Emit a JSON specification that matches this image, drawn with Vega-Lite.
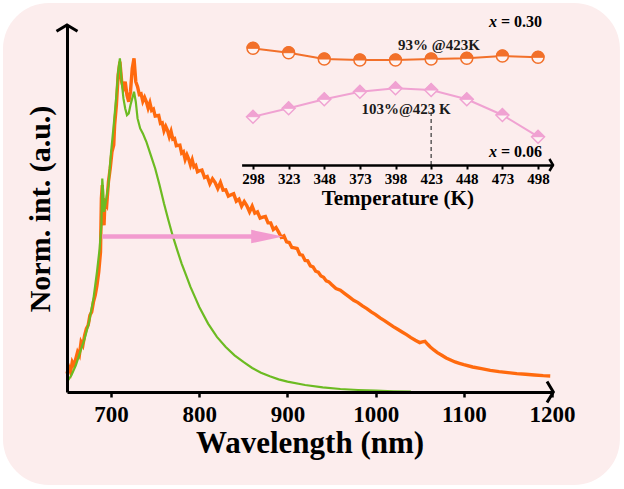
{
  "$schema": "https://vega.github.io/schema/vega-lite/v6.json",
  "width": 485,
  "height": 367,
  "autosize": {"type": "none"},
  "padding": {"left": 67, "top": 25, "right": 72, "bottom": 97},
  "background": "white",
  "config": {
    "view": {"stroke": null},
    "font": "Liberation Serif",
    "axis": {
      "grid": false,
      "labelFont": "Liberation Serif",
      "titleFont": "Liberation Serif",
      "labelFontWeight": "bold",
      "titleFontWeight": "bold",
      "labelColor": "black",
      "titleColor": "black",
      "domainColor": "black",
      "tickColor": "black"
    }
  },
  "datasets": {
    "orange": [
      {"w": 650, "v": 0.055}, {"w": 652, "v": 0.075}, {"w": 654, "v": 0.06}, {"w": 656, "v": 0.09},
      {"w": 658, "v": 0.08}, {"w": 660, "v": 0.1}, {"w": 662, "v": 0.12}, {"w": 664, "v": 0.11},
      {"w": 666, "v": 0.15}, {"w": 668, "v": 0.14}, {"w": 670, "v": 0.17}, {"w": 672, "v": 0.19},
      {"w": 674, "v": 0.2}, {"w": 676, "v": 0.23}, {"w": 678, "v": 0.24}, {"w": 680, "v": 0.27},
      {"w": 682, "v": 0.29}, {"w": 684, "v": 0.32}, {"w": 686, "v": 0.36}, {"w": 688, "v": 0.42},
      {"w": 689, "v": 0.58}, {"w": 690, "v": 0.62}, {"w": 691, "v": 0.52}, {"w": 692, "v": 0.5},
      {"w": 693, "v": 0.57}, {"w": 695, "v": 0.56}, {"w": 697, "v": 0.63}, {"w": 699, "v": 0.67},
      {"w": 701, "v": 0.72}, {"w": 703, "v": 0.74}, {"w": 704, "v": 0.8}, {"w": 706, "v": 0.86},
      {"w": 708, "v": 0.95}, {"w": 710, "v": 0.99}, {"w": 711, "v": 0.96}, {"w": 712, "v": 0.93},
      {"w": 714, "v": 0.91}, {"w": 716, "v": 0.93}, {"w": 718, "v": 0.89}, {"w": 720, "v": 0.87},
      {"w": 722, "v": 0.9}, {"w": 724, "v": 0.97}, {"w": 726, "v": 1.0}, {"w": 728, "v": 0.93},
      {"w": 730, "v": 0.915}, {"w": 732, "v": 0.892}, {"w": 734, "v": 0.894}, {"w": 736, "v": 0.871},
      {"w": 738, "v": 0.883}, {"w": 740, "v": 0.87}, {"w": 742, "v": 0.851}, {"w": 744, "v": 0.867},
      {"w": 746, "v": 0.844}, {"w": 748, "v": 0.848}, {"w": 750, "v": 0.827}, {"w": 752, "v": 0.828},
      {"w": 754, "v": 0.829}, {"w": 756, "v": 0.805}, {"w": 758, "v": 0.807}, {"w": 760, "v": 0.783},
      {"w": 762, "v": 0.796}, {"w": 764, "v": 0.784}, {"w": 766, "v": 0.765}, {"w": 768, "v": 0.781},
      {"w": 770, "v": 0.758}, {"w": 772, "v": 0.76}, {"w": 774, "v": 0.738}, {"w": 776, "v": 0.739},
      {"w": 778, "v": 0.74}, {"w": 780, "v": 0.716}, {"w": 782, "v": 0.72}, {"w": 784, "v": 0.697},
      {"w": 786, "v": 0.711}, {"w": 788, "v": 0.698}, {"w": 790, "v": 0.68}, {"w": 792, "v": 0.696},
      {"w": 794, "v": 0.675}, {"w": 796, "v": 0.679}, {"w": 798, "v": 0.66}, {"w": 800, "v": 0.663},
      {"w": 803, "v": 0.665}, {"w": 806, "v": 0.643}, {"w": 809, "v": 0.646}, {"w": 812, "v": 0.624},
      {"w": 815, "v": 0.639}, {"w": 818, "v": 0.628}, {"w": 821, "v": 0.61}, {"w": 824, "v": 0.628},
      {"w": 827, "v": 0.605}, {"w": 830, "v": 0.606}, {"w": 833, "v": 0.587}, {"w": 836, "v": 0.591},
      {"w": 839, "v": 0.594}, {"w": 842, "v": 0.572}, {"w": 845, "v": 0.578}, {"w": 848, "v": 0.557},
      {"w": 851, "v": 0.571}, {"w": 854, "v": 0.558}, {"w": 857, "v": 0.54}, {"w": 860, "v": 0.557},
      {"w": 863, "v": 0.536}, {"w": 866, "v": 0.54}, {"w": 869, "v": 0.521}, {"w": 872, "v": 0.524},
      {"w": 875, "v": 0.526}, {"w": 878, "v": 0.507}, {"w": 881, "v": 0.507}, {"w": 884, "v": 0.487},
      {"w": 887, "v": 0.493}, {"w": 890, "v": 0.479}, {"w": 893, "v": 0.464}, {"w": 896, "v": 0.468},
      {"w": 899, "v": 0.45}, {"w": 902, "v": 0.448}, {"w": 905, "v": 0.433}, {"w": 908, "v": 0.432},
      {"w": 911, "v": 0.43}, {"w": 914, "v": 0.412}, {"w": 917, "v": 0.41}, {"w": 920, "v": 0.394},
      {"w": 923, "v": 0.393}, {"w": 926, "v": 0.378}, {"w": 929, "v": 0.375}, {"w": 932, "v": 0.362},
      {"w": 935, "v": 0.359}, {"w": 938, "v": 0.348}, {"w": 941, "v": 0.344}, {"w": 944, "v": 0.333},
      {"w": 947, "v": 0.33}, {"w": 950, "v": 0.322}, {"w": 955, "v": 0.31}, {"w": 960, "v": 0.305},
      {"w": 965, "v": 0.295}, {"w": 970, "v": 0.285}, {"w": 975, "v": 0.275}, {"w": 980, "v": 0.268},
      {"w": 985, "v": 0.258}, {"w": 990, "v": 0.25}, {"w": 995, "v": 0.24}, {"w": 1000, "v": 0.232},
      {"w": 1005, "v": 0.222}, {"w": 1010, "v": 0.214}, {"w": 1015, "v": 0.205}, {"w": 1020, "v": 0.196},
      {"w": 1025, "v": 0.188}, {"w": 1030, "v": 0.18}, {"w": 1035, "v": 0.172}, {"w": 1040, "v": 0.163},
      {"w": 1045, "v": 0.155}, {"w": 1050, "v": 0.148}, {"w": 1053, "v": 0.15}, {"w": 1056, "v": 0.152},
      {"w": 1059, "v": 0.143}, {"w": 1062, "v": 0.135}, {"w": 1066, "v": 0.126}, {"w": 1070, "v": 0.118},
      {"w": 1075, "v": 0.11}, {"w": 1080, "v": 0.102}, {"w": 1085, "v": 0.096}, {"w": 1090, "v": 0.09},
      {"w": 1095, "v": 0.086}, {"w": 1100, "v": 0.082}, {"w": 1110, "v": 0.075}, {"w": 1120, "v": 0.07},
      {"w": 1130, "v": 0.065}, {"w": 1140, "v": 0.061}, {"w": 1150, "v": 0.058}, {"w": 1160, "v": 0.055},
      {"w": 1170, "v": 0.053}, {"w": 1180, "v": 0.051}, {"w": 1190, "v": 0.049}, {"w": 1198, "v": 0.048}
    ],
    "green": [
      {"w": 650, "v": 0.03}, {"w": 655, "v": 0.05}, {"w": 660, "v": 0.08}, {"w": 665, "v": 0.12},
      {"w": 670, "v": 0.16}, {"w": 675, "v": 0.21}, {"w": 680, "v": 0.28}, {"w": 684, "v": 0.36},
      {"w": 687, "v": 0.43}, {"w": 689, "v": 0.5}, {"w": 690, "v": 0.64}, {"w": 691, "v": 0.6},
      {"w": 692, "v": 0.54}, {"w": 694, "v": 0.57}, {"w": 697, "v": 0.62}, {"w": 700, "v": 0.72},
      {"w": 703, "v": 0.8}, {"w": 706, "v": 0.89}, {"w": 708, "v": 0.96}, {"w": 710, "v": 1.0},
      {"w": 712, "v": 0.93}, {"w": 714, "v": 0.88}, {"w": 716, "v": 0.85}, {"w": 718, "v": 0.83},
      {"w": 720, "v": 0.835}, {"w": 722, "v": 0.86}, {"w": 724, "v": 0.88}, {"w": 726, "v": 0.9},
      {"w": 728, "v": 0.87}, {"w": 730, "v": 0.82}, {"w": 733, "v": 0.79}, {"w": 736, "v": 0.775},
      {"w": 740, "v": 0.75}, {"w": 745, "v": 0.71}, {"w": 750, "v": 0.67}, {"w": 755, "v": 0.62},
      {"w": 760, "v": 0.565}, {"w": 765, "v": 0.515}, {"w": 770, "v": 0.467}, {"w": 775, "v": 0.425},
      {"w": 780, "v": 0.385}, {"w": 785, "v": 0.35}, {"w": 790, "v": 0.315}, {"w": 795, "v": 0.285},
      {"w": 800, "v": 0.255}, {"w": 810, "v": 0.205}, {"w": 820, "v": 0.165}, {"w": 830, "v": 0.135},
      {"w": 840, "v": 0.11}, {"w": 850, "v": 0.09}, {"w": 860, "v": 0.072}, {"w": 870, "v": 0.058},
      {"w": 880, "v": 0.047}, {"w": 890, "v": 0.038}, {"w": 900, "v": 0.031}, {"w": 920, "v": 0.021},
      {"w": 940, "v": 0.014}, {"w": 960, "v": 0.009}, {"w": 980, "v": 0.006}, {"w": 1000, "v": 0.004},
      {"w": 1020, "v": 0.002}, {"w": 1040, "v": 0.001}
    ],
    "inset": [
      {"t": 298, "o": 1.167, "p": 0.483},
      {"t": 323, "o": 1.123, "p": 0.567},
      {"t": 348, "o": 1.06, "p": 0.657},
      {"t": 373, "o": 1.05, "p": 0.733},
      {"t": 398, "o": 1.05, "p": 0.767},
      {"t": 423, "o": 1.06, "p": 0.75},
      {"t": 448, "o": 1.067, "p": 0.657},
      {"t": 473, "o": 1.09, "p": 0.5},
      {"t": 498, "o": 1.077, "p": 0.283}
    ]
  },
  "layer": [
    {
      "layer": [
        {
          "data": {"values": [{"x1": 577.4, "x2": 1277, "y1": -0.279, "y2": 1.166}]},
          "mark": {"type": "rect", "cornerRadius": 46, "fill": "#FCEDED", "clip": false},
          "encoding": {
            "x": {
              "field": "x1", "type": "quantitative",
              "scale": {"domain": [650, 1200], "nice": false, "zero": false},
              "axis": {
                "zindex": 2,
                "values": [700, 800, 900, 1000, 1100, 1200],
                "format": "d",
                "title": "Wavelength (nm)",
                "tickSize": 5, "tickWidth": 2.5,
                "domainWidth": 3,
                "labelFontSize": 23, "labelPadding": 6,
                "labelFlush": false, "labelOverlap": false,
                "titleFontSize": 31, "titlePadding": 2
              }
            },
            "x2": {"field": "x2"},
            "y": {
              "field": "y1", "type": "quantitative",
              "scale": {"domain": [0, 1.1], "nice": false},
              "axis": {
                "zindex": 2,
                "ticks": false, "labels": false,
                "domainWidth": 3,
                "title": "Norm. int. (a.u.)",
                "titleFontSize": 30, "titlePadding": 12
              }
            },
            "y2": {"field": "y2"}
          }
        },
        {
          "data": {"name": "orange"},
          "mark": {"type": "line", "color": "#FF6A0E", "strokeWidth": 3.4},
          "encoding": {
            "x": {"field": "w", "type": "quantitative", "scale": {"domain": [650, 1200], "nice": false, "zero": false}},
            "y": {"field": "v", "type": "quantitative", "scale": {"domain": [0, 1.1], "nice": false}}
          }
        },
        {
          "data": {"name": "green"},
          "mark": {"type": "line", "color": "#6CBB22", "strokeWidth": 2.2},
          "encoding": {
            "x": {"field": "w", "type": "quantitative", "scale": {"domain": [650, 1200], "nice": false, "zero": false}},
            "y": {"field": "v", "type": "quantitative", "scale": {"domain": [0, 1.1], "nice": false}}
          }
        },
        {
          "data": {"values": [{"a": 690, "b": 864, "v": 0.466}]},
          "mark": {"type": "rule", "color": "#F29BCF", "strokeWidth": 4.5},
          "encoding": {
            "x": {"field": "a", "type": "quantitative"},
            "x2": {"field": "b"},
            "y": {"field": "v", "type": "quantitative"}
          }
        },
        {
          "data": {"values": [{"a": 877, "v": 0.466}]},
          "mark": {"type": "point", "shape": "M-1,-0.42L1,0L-1,0.42Z", "filled": true, "color": "#F29BCF", "opacity": 1, "size": 1024},
          "encoding": {
            "x": {"field": "a", "type": "quantitative"},
            "y": {"field": "v", "type": "quantitative"}
          }
        },
        {
          "data": {"values": [{"w": 650, "v": 1.1, "s": "M-1,0.6L0,0L1,0.6"}, {"w": 1201.5, "v": 0, "s": "M-0.6,-1L0,0L-0.6,1"}]},
          "mark": {"type": "point", "filled": false, "color": "black", "strokeWidth": 3, "opacity": 1, "size": 441, "clip": false},
          "encoding": {
            "x": {"field": "w", "type": "quantitative"},
            "y": {"field": "v", "type": "quantitative"},
            "shape": {"field": "s", "type": "nominal", "scale": null, "legend": null}
          }
        }
      ]
    },
    {
      "layer": [
        {
          "data": {"values": [{"t": 423, "lo": 0, "hi": 0.53}]},
          "mark": {"type": "rule", "color": "#444444", "strokeWidth": 1.3, "strokeDash": [4, 3]},
          "encoding": {
            "x": {
              "field": "t", "type": "quantitative",
              "scale": {"domain": [290, 508.5], "range": [174.6, 486], "nice": false, "zero": false},
              "axis": {
                "zindex": 2,
                "orient": "bottom", "offset": -227,
                "values": [298, 323, 348, 373, 398, 423, 448, 473, 498],
                "format": "d",
                "title": "Temperature (K)",
                "tickSize": 4, "tickWidth": 2,
                "domainWidth": 2.5,
                "labelFontSize": 15, "labelPadding": 2,
                "labelFlush": false, "labelOverlap": false,
                "titleFontSize": 21, "titlePadding": 1
              }
            },
            "y": {"field": "lo", "type": "quantitative", "scale": {"domain": [0, 1.4], "range": [140, 0], "nice": false}, "axis": null},
            "y2": {"field": "hi"}
          }
        },
        {
          "data": {"name": "inset"},
          "mark": {"type": "line", "color": "#F2702A", "strokeWidth": 2},
          "encoding": {
            "x": {"field": "t", "type": "quantitative"},
            "y": {"field": "o", "type": "quantitative", "axis": null}
          }
        },
        {
          "data": {"name": "inset"},
          "mark": {"type": "line", "color": "#F0A2D2", "strokeWidth": 2},
          "encoding": {
            "x": {"field": "t", "type": "quantitative"},
            "y": {"field": "p", "type": "quantitative", "axis": null}
          }
        },
        {
          "data": {"name": "inset"},
          "mark": {"type": "point", "shape": "circle", "filled": true, "fill": "#FDF3F3", "stroke": "#F2702A", "strokeWidth": 1.5, "opacity": 1, "size": 144},
          "encoding": {
            "x": {"field": "t", "type": "quantitative"},
            "y": {"field": "o", "type": "quantitative", "axis": null}
          }
        },
        {
          "data": {"name": "inset"},
          "mark": {"type": "point", "shape": "M-1,0A1,1,0,0,1,1,0Z", "filled": true, "fill": "#F2702A", "stroke": "#F2702A", "strokeWidth": 1, "opacity": 1, "size": 144},
          "encoding": {
            "x": {"field": "t", "type": "quantitative"},
            "y": {"field": "o", "type": "quantitative", "axis": null}
          }
        },
        {
          "data": {"name": "inset"},
          "mark": {"type": "point", "shape": "diamond", "filled": true, "fill": "#FDF3F3", "stroke": "#F0A2D2", "strokeWidth": 1.5, "opacity": 1, "size": 169},
          "encoding": {
            "x": {"field": "t", "type": "quantitative"},
            "y": {"field": "p", "type": "quantitative", "axis": null}
          }
        },
        {
          "data": {"name": "inset"},
          "mark": {"type": "point", "shape": "M-1,0L0,-1L1,0Z", "filled": true, "fill": "#F0A2D2", "stroke": "#F0A2D2", "strokeWidth": 1, "opacity": 1, "size": 169},
          "encoding": {
            "x": {"field": "t", "type": "quantitative"},
            "y": {"field": "p", "type": "quantitative", "axis": null}
          }
        },
        {
          "data": {"values": [{"t": 469.2, "v": 1.43, "txt": "x"}, {"t": 469.2, "v": 0.13, "txt": "x"}]},
          "mark": {"type": "text", "align": "right", "baseline": "middle", "font": "Liberation Serif", "fontSize": 16, "fontWeight": "bold", "fontStyle": "italic", "color": "black"},
          "encoding": {
            "x": {"field": "t", "type": "quantitative"},
            "y": {"field": "v", "type": "quantitative", "axis": null},
            "text": {"field": "txt"}
          }
        },
        {
          "data": {"values": [{"t": 500.8, "v": 1.43, "txt": "= 0.30"}, {"t": 500.8, "v": 0.13, "txt": "= 0.06"}]},
          "mark": {"type": "text", "align": "right", "baseline": "middle", "font": "Liberation Serif", "fontSize": 16, "fontWeight": "bold", "color": "black"},
          "encoding": {
            "x": {"field": "t", "type": "quantitative"},
            "y": {"field": "v", "type": "quantitative", "axis": null},
            "text": {"field": "txt"}
          }
        },
        {
          "data": {"values": [{"t": 428.5, "v": 1.2, "txt": "93% @423K"}, {"t": 405.4, "v": 0.56, "txt": "103%@423 K"}]},
          "mark": {"type": "text", "align": "center", "baseline": "middle", "font": "Liberation Serif", "fontSize": 15, "fontWeight": "bold", "color": "#1a1a1a"},
          "encoding": {
            "x": {"field": "t", "type": "quantitative"},
            "y": {"field": "v", "type": "quantitative", "axis": null},
            "text": {"field": "txt"}
          }
        },
        {
          "data": {"values": [{"t": 508.5, "v": 0}]},
          "mark": {"type": "point", "shape": "M-0.6,-1L0,0L-0.6,1", "filled": false, "color": "black", "strokeWidth": 2.5, "opacity": 1, "size": 144, "clip": false},
          "encoding": {
            "x": {"field": "t", "type": "quantitative"},
            "y": {"field": "v", "type": "quantitative", "axis": null}
          }
        }
      ]
    }
  ],
  "resolve": {"scale": {"x": "independent", "y": "independent"}, "axis": {"x": "independent", "y": "independent"}}
}
